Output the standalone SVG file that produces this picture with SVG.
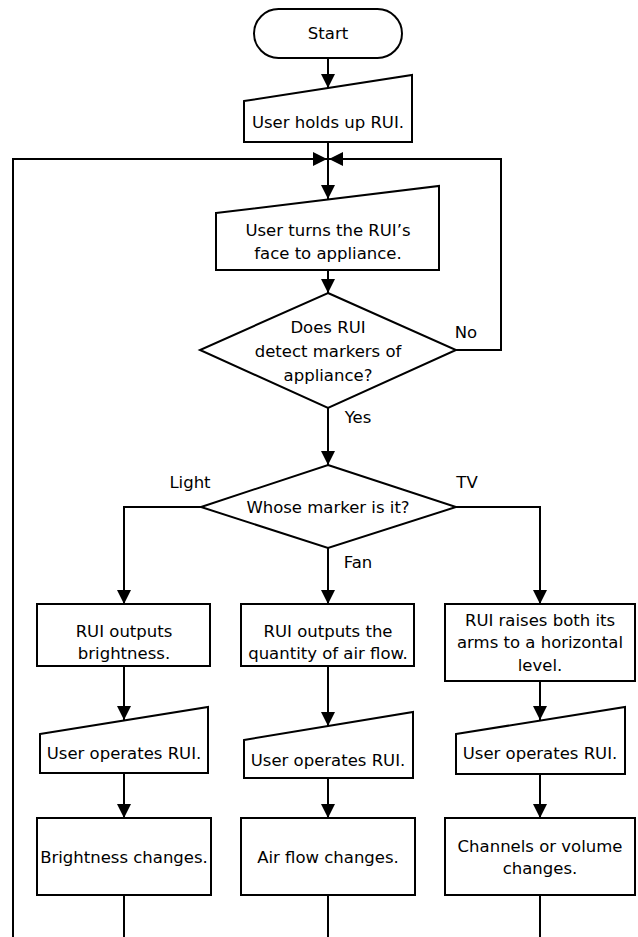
<svg xmlns="http://www.w3.org/2000/svg" width="638" height="937" viewBox="0 0 638 937">
<style>
.s{fill:#fff;stroke:#000;stroke-width:2}
.c{fill:none;stroke:#000;stroke-width:2}
text{font-family:"DejaVu Sans","Liberation Sans",sans-serif;font-size:16.5px;fill:#000;text-anchor:middle;dominant-baseline:central}
</style>
<defs>
<marker id="ah" markerWidth="14" markerHeight="14" refX="14" refY="7" orient="auto" markerUnits="userSpaceOnUse"><path d="M0,0 L14,7 L0,14 z" fill="#000"/></marker>
</defs>
<rect width="638" height="937" fill="#fff"/>
<g id="connectors">
<path class="c" d="M328,58 V88" marker-end="url(#ah)"/>
<path class="c" d="M328,142 V199" marker-end="url(#ah)"/>
<path class="c" d="M328,270 V293" marker-end="url(#ah)"/>
<path class="c" d="M328,408 V465" marker-end="url(#ah)"/>
<path class="c" d="M456,350 H501 V159 H329" marker-end="url(#ah)"/>
<path class="c" d="M13,937 V159 H327" marker-end="url(#ah)"/>
<path class="c" d="M201,507 H124 V604" marker-end="url(#ah)"/>
<path class="c" d="M328,548 V604" marker-end="url(#ah)"/>
<path class="c" d="M456,507 H540 V604" marker-end="url(#ah)"/>
<path class="c" d="M124,666 V720" marker-end="url(#ah)"/>
<path class="c" d="M328,666 V726" marker-end="url(#ah)"/>
<path class="c" d="M540,681 V720" marker-end="url(#ah)"/>
<path class="c" d="M124,773 V818" marker-end="url(#ah)"/>
<path class="c" d="M328,778 V818" marker-end="url(#ah)"/>
<path class="c" d="M540,774 V818" marker-end="url(#ah)"/>
<path class="c" d="M124,895 V937"/>
<path class="c" d="M328,895 V937"/>
<path class="c" d="M540,895 V937"/>
<text x="358" y="417">Yes</text>
<text x="466" y="332">No</text>
<text x="190" y="482">Light</text>
<text x="467" y="482">TV</text>
<text x="358" y="562">Fan</text>
</g>
<g id="start"><rect class="s" x="254" y="9" width="148" height="49" rx="24.5"/><text x="328" y="33.5">Start</text></g>
<g id="hold"><polygon class="s" points="244,101 412,75 412,142 244,142"/><text x="328" y="122">User holds up RUI.</text></g>
<g id="turn"><polygon class="s" points="216,213 439,186 439,270 216,270"/><text x="328" y="230">User turns the RUI’s</text><text x="328" y="253">face to appliance.</text></g>
<g id="detect"><polygon class="s" points="328,293 456,350 328,408 200,350"/><text x="328" y="327">Does RUI</text><text x="328" y="351">detect markers of</text><text x="328" y="375">appliance?</text></g>
<g id="whose"><polygon class="s" points="328,465 456,507 328,548 201,507"/><text x="328" y="507">Whose marker is it?</text></g>
<g id="light1"><rect class="s" x="37" y="604" width="173" height="62"/><text x="124" y="631">RUI outputs</text><text x="124" y="653">brightness.</text></g>
<g id="fan1"><rect class="s" x="241" y="604" width="173" height="62"/><text x="328" y="631">RUI outputs the</text><text x="328" y="653">quantity of air flow.</text></g>
<g id="tv1"><rect class="s" x="445" y="604" width="190" height="77"/><text x="540" y="620">RUI raises both its</text><text x="540" y="642.5">arms to a horizontal</text><text x="540" y="665.5">level.</text></g>
<g id="light2"><polygon class="s" points="40,734 208,707 208,773 40,773"/><text x="124" y="753">User operates RUI.</text></g>
<g id="fan2"><polygon class="s" points="244,740 413,712 413,778 244,778"/><text x="328" y="760">User operates RUI.</text></g>
<g id="tv2"><polygon class="s" points="456,734 625,707 625,774 456,774"/><text x="540" y="753">User operates RUI.</text></g>
<g id="light3"><rect class="s" x="37" y="818" width="174" height="77"/><text x="124" y="857">Brightness changes.</text></g>
<g id="fan3"><rect class="s" x="241" y="818" width="174" height="77"/><text x="328" y="857">Air flow changes.</text></g>
<g id="tv3"><rect class="s" x="445" y="818" width="190" height="77"/><text x="540" y="846">Channels or volume</text><text x="540" y="868">changes.</text></g>
</svg>
